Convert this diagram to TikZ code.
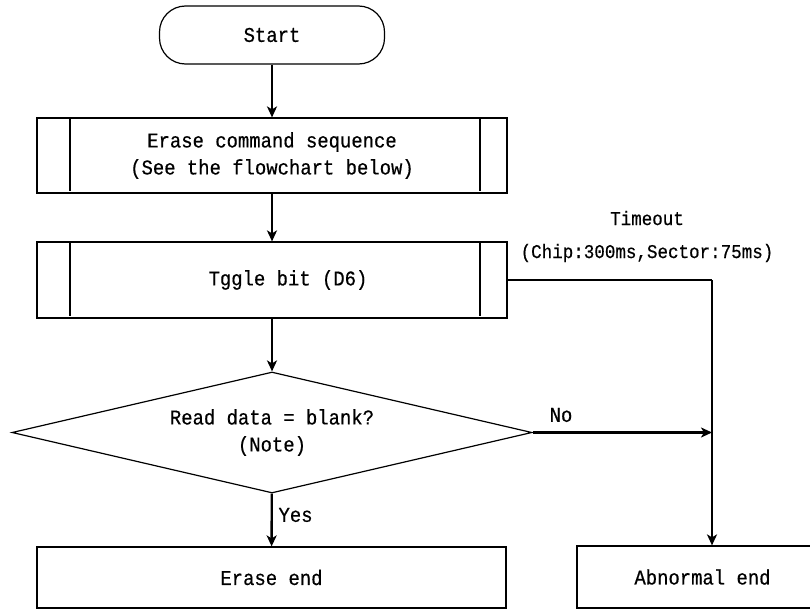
\documentclass[tikz,border=0pt]{standalone}
\usepackage{fontspec}
\setmonofont[FakeStretch=0.9,FakeBold=0.5]{Liberation Mono}
\usetikzlibrary{shapes.geometric,arrows.meta,calc}

\begin{document}
\begin{tikzpicture}[
    x=1pt, y=-1pt,
    font=\ttfamily\fontsize{21}{27}\selectfont,
    box/.style={draw, line width=1.2pt, align=center, inner sep=0pt},
    process/.style={box, minimum width=470pt},
    terminal/.style={box, rounded corners=26pt, minimum width=225pt, minimum height=58pt},
    decision/.style={box, diamond, aspect=4.3, minimum width=520pt, minimum height=121pt},
    flow/.style={line width=2.4pt, -{Stealth[length=11pt,width=10pt,inset=3pt]}},
    label/.style={font=\ttfamily\fontsize{19.5}{33}\selectfont, align=center}
]
    \useasboundingbox (0,0) rectangle (810,610);

    \node[terminal] (start) at (272,35) {Start};
    \node[process, minimum height=75pt] (erase) at (272,155.5) {Erase command sequence\\(See the flowchart below)};
    \node[process, minimum height=76pt] (toggle) at (272,280) {\hspace*{32pt}Tggle bit (D6)};
    \node[decision] (check) at (272,432.5) {Read data = blank?\\(Note)};
    \node[box, minimum width=469pt, minimum height=61pt] (eraseend) at (271.5,577.5) {Erase end};
    \node[box, minimum width=251pt, minimum height=62pt] (abnormal) at (702.5,577) {Abnormal end};

    % sub-process side bars
    \foreach \n in {erase, toggle} {
        \draw[line width=2pt] ($(\n.north west)+(34,0)$) -- ($(\n.south west)+(34,-3)$);
        \draw[line width=2pt] ($(\n.north east)+(-28,0)$) -- ($(\n.south east)+(-28,-3)$);
    }

    \coordinate (corner) at (712,280);

    \draw[flow] (start) -- (erase);
    \draw[flow] (erase) -- (toggle);
    \draw[flow] (toggle) -- (check);
    \draw[flow] (check) -- (eraseend);
    \node[right] (yes) at (275,515) {Yes};

    \draw[line width=1.5pt] (toggle.east) -- (corner);
    \draw[flow] (corner) -- (abnormal.north -| corner);
    \node[label] (timeout) at (647,236.5) {Timeout\\(Chip:300ms,Sector:75ms)};

    \draw[flow] (check.east) -- (check.east -| corner);
    \node (no) at (561,415) {No};
\end{tikzpicture}
\end{document}
